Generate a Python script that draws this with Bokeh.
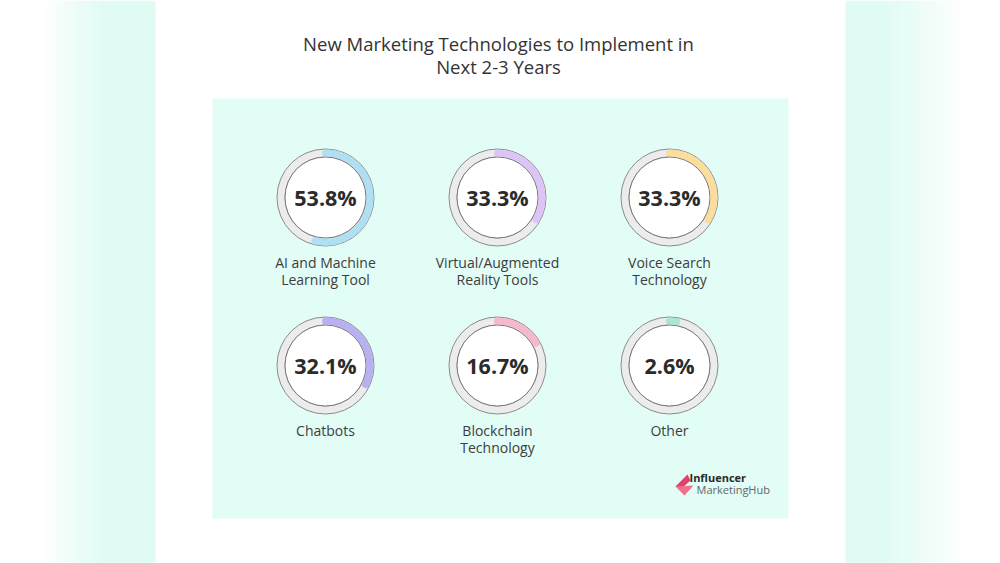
import numpy as np
from bokeh.plotting import figure
from bokeh.models import Range1d, ColumnDataSource
from bokeh.core.properties import value
from bokeh.embed import file_html
from bokeh.resources import INLINE

# ---- data ----
categories = ["AI and Machine\nLearning Tool", "Virtual/Augmented\nReality Tools",
              "Voice Search\nTechnology", "Chatbots", "Blockchain\nTechnology", "Other"]
percentages = [53.8, 33.3, 33.3, 32.1, 16.7, 2.6]
arc_colors = ["#AEDFF2", "#DCC5F6", "#FBDD9E", "#B7B0F3", "#F5B8CC", "#ABE5D6"]
title_lines = ["New Marketing Technologies to Implement in", "Next 2-3 Years"]

# ---- layout (page pixel coordinates) ----
W, H = 1000, 563
def Y(py):
    return H - py

col_x = [325, 497, 669]
row_y = [197, 365]
cx = [col_x[i % 3] for i in range(len(categories))]
cy_px = [row_y[i // 3] for i in range(len(categories))]
cy = [Y(v) for v in cy_px]

p = figure(width=1000, height=563, x_range=Range1d(0, 1000), y_range=Range1d(0, 563),
           output_backend="svg", toolbar_location=None, min_border=0,
           background_fill_color="white", border_fill_color="white")
p.outline_line_color = None
p.axis.visible = False
p.xgrid.visible = False
p.ygrid.visible = False

MINT = "#E0FBF4"
# side gradient bands
n = 40
lx = np.linspace(40, 100, n + 1)
p.quad(left=lx[:-1], right=lx[1:], bottom=Y(563), top=Y(0), fill_color=MINT,
       fill_alpha=np.linspace(0.0, 1.0, n), line_color=None)
p.quad(left=[100], right=[155], bottom=[Y(563)], top=[Y(0)], fill_color=MINT, line_color=None)
rx = np.linspace(890, 965, n + 1)
p.quad(left=rx[:-1], right=rx[1:], bottom=Y(563), top=Y(0), fill_color=MINT,
       fill_alpha=np.linspace(1.0, 0.0, n), line_color=None)
p.quad(left=[845], right=[890], bottom=[Y(563)], top=[Y(0)], fill_color=MINT, line_color=None)

# inner panel
p.quad(left=[212], right=[788], top=[Y(98)], bottom=[Y(518)], fill_color="#E2FCF6", line_color=None)

# title
p.text(x=[498, 498], y=[Y(43), Y(66)], text=title_lines, text_align="center",
       text_baseline="middle", text_font=value("Open Sans"), text_font_size="18.5px",
       text_color="#333333")

src = ColumnDataSource(dict(
    x=cx, y=cy, color=arc_colors,
    start=[np.pi / 2] * len(percentages),
    end=[np.pi / 2 - 2 * np.pi * v / 100 for v in percentages],
    pct=[f"{v:.1f}%" for v in percentages],
))

# ring
p.annulus(x="x", y="y", inner_radius=40.5, outer_radius=48.5, source=src,
          fill_color="#ECECEC", line_color="#8C8C8C", line_width=1)
p.circle(x="x", y="y", radius=40.5, source=src, fill_color="white",
         line_color="#7A7A7A", line_width=1)
# value arc
p.arc(x="x", y="y", radius=44.5, start_angle="start", end_angle="end", direction="clock",
      source=src, line_color="color", line_width=7, line_cap="round")

# percentage text
p.text(x="x", y="y", text="pct", source=src, text_align="center", text_baseline="middle",
       text_font=value("Open Sans"), text_font_style="bold", text_font_size="21.5px",
       text_color="#2B2B2B")

# labels
lx_, ly_, lt_ = [], [], []
for i, c in enumerate(categories):
    for j, line in enumerate(c.split("\n")):
        lx_.append(cx[i])
        ly_.append(Y(cy_px[i] + 65 + 17 * j))
        lt_.append(line)
p.text(x=lx_, y=ly_, text=lt_, text_align="center", text_baseline="middle",
       text_font=value("Open Sans"), text_font_size="14px", text_color="#3D3D3D")

# logo
p.patch(x=[675, 687, 690, 681], y=[Y(486), Y(474), Y(480), Y(488)], fill_color="#E0406A", line_color=None)
p.patch(x=[675, 693, 684], y=[Y(486), Y(485), Y(495)], fill_color="#F0708F", line_color=None)
p.text(x=[689], y=[Y(477)], text=["Influencer"], text_align="left", text_baseline="middle",
       text_font=value("Open Sans"), text_font_style="bold", text_font_size="11px", text_color="#2A2A2A")
p.text(x=[696], y=[Y(489)], text=["MarketingHub"], text_align="left", text_baseline="middle",
       text_font=value("Open Sans"), text_font_size="11px", text_color="#666666")

open("out.html", "w").write(file_html(p, INLINE))
